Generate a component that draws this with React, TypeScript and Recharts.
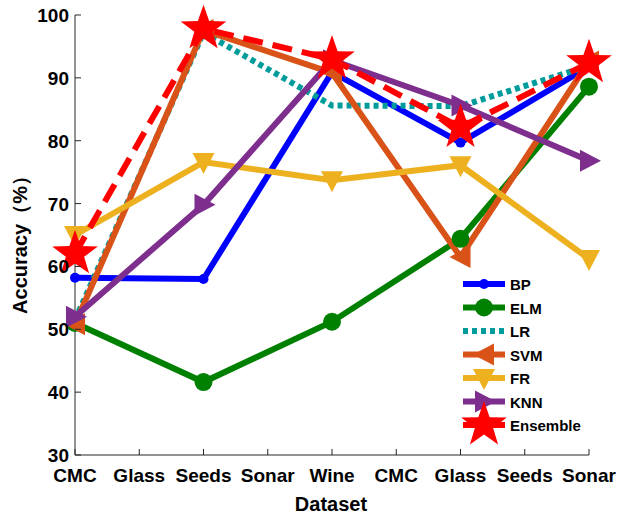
import { LineChart, Line, XAxis, YAxis } from "recharts"

const tickLabels = ["CMC", "Glass", "Seeds", "Sonar", "Wine", "CMC", "Glass", "Seeds", "Sonar"]
const xTicks = [0, 1, 2, 3, 4, 5, 6, 7, 8]
const yTicks = [30, 40, 50, 60, 70, 80, 90, 100]
const datasetPos = [0, 2, 4, 6, 8]

const bp = [58.2, 58.0, 90.9, 79.7, 91.8]
const elm = [51.0, 41.6, 51.2, 64.4, 88.6]
const lr = [51.5, 97.2, 85.6, 85.5, 91.9]
const svm = [50.8, 97.6, 90.8, 61.5, 92.6]
const fr = [65.0, 76.6, 73.7, 76.1, 61.2]
const knn = [52.0, 69.8, 92.8, 85.6, 76.8]
const ensemble = [62.0, 97.8, 93.0, 82.1, 92.4]

const data = datasetPos.map((x, i) => ({
  x,
  BP: bp[i],
  ELM: elm[i],
  LR: lr[i],
  SVM: svm[i],
  FR: fr[i],
  KNN: knn[i],
  Ensemble: ensemble[i],
}))

const FONT = "'Liberation Sans', Arial, sans-serif"
const AXIS = "#262626"

const starPoints = (cx: number, cy: number, r: number) => {
  const pts: string[] = []
  for (let i = 0; i < 10; i++) {
    const rad = i % 2 === 0 ? r : r * 0.4
    const a = -Math.PI / 2 + (i * Math.PI) / 5
    pts.push(`${cx + rad * Math.cos(a)},${cy + rad * Math.sin(a)}`)
  }
  return pts.join(" ")
}

const drawMarker = (marker: string, color: string, cx: number, cy: number, key?: string) => {
  switch (marker) {
    case "dot":
      return <circle key={key} cx={cx} cy={cy} r={5} fill={color} />
    case "circle":
      return <circle key={key} cx={cx} cy={cy} r={9} fill={color} />
    case "left":
      return <polygon key={key} points={`${cx - 11},${cy} ${cx + 10},${cy - 11} ${cx + 10},${cy + 11}`} fill={color} />
    case "down":
      return <polygon key={key} points={`${cx - 11},${cy - 9} ${cx + 11},${cy - 9} ${cx},${cy + 12}`} fill={color} />
    case "right":
      return <polygon key={key} points={`${cx + 12},${cy} ${cx - 9},${cy - 11} ${cx - 9},${cy + 11}`} fill={color} />
    case "star":
      return <polygon key={key} points={starPoints(cx, cy, 24)} fill={color} />
    default:
      return <g key={key} />
  }
}

const series = [
  { key: "BP", color: "#0000FF", dash: undefined, marker: "dot" },
  { key: "ELM", color: "#008000", dash: undefined, marker: "circle" },
  { key: "LR", color: "#009B9B", dash: "5 4", marker: "none" },
  { key: "SVM", color: "#D95319", dash: undefined, marker: "left" },
  { key: "FR", color: "#EDB120", dash: undefined, marker: "down" },
  { key: "KNN", color: "#7E2F8E", dash: undefined, marker: "right" },
  { key: "Ensemble", color: "#FF0000", dash: "20 10", marker: "star" },
]

const BottomTick = (props: any) => {
  const { x, y, payload } = props
  return (
    <g>
      <line x1={x} y1={y} x2={x} y2={y - 6} stroke={AXIS} />
      <text x={x} y={y + 27} textAnchor="middle" fontFamily={FONT} fontWeight="bold" fontSize={19} fill="#000">
        {tickLabels[payload.value]}
      </text>
    </g>
  )
}

const LeftTick = (props: any) => {
  const { x, y, payload } = props
  return (
    <g>
      <line x1={x} y1={y} x2={x + 6} y2={y} stroke={AXIS} />
      <text x={x - 6} y={y + 7} textAnchor="end" fontFamily={FONT} fontWeight="bold" fontSize={19} fill="#000">
        {payload.value}
      </text>
    </g>
  )
}

const TopTick = (props: any) => {
  const { x, y } = props
  return <line x1={x} y1={y} x2={x} y2={y + 6} stroke={AXIS} />
}

const RightTick = (props: any) => {
  const { x, y } = props
  return <line x1={x} y1={y} x2={x - 6} y2={y} stroke={AXIS} />
}

const legendTop = 284
const legendGap = 23.5

export default function App() {
  return (
    <div style={{ position: "absolute", left: 0, top: 0, width: 618, height: 515, overflow: "visible" }}>
      <LineChart width={618} height={515} data={data} margin={{ top: 15, right: 29, bottom: 0, left: 0 }}>
        <XAxis
          dataKey="x"
          type="number"
          domain={[0, 8]}
          ticks={xTicks}
          interval={0}
          height={60}
          tickLine={false}
          tickSize={0}
          tickMargin={0}
          stroke={AXIS}
          tick={<BottomTick />}
        />
        <XAxis
          xAxisId="top"
          dataKey="x"
          type="number"
          orientation="top"
          domain={[0, 8]}
          ticks={xTicks}
          interval={0}
          height={0}
          tickLine={false}
          tickSize={0}
          tickMargin={0}
          stroke={AXIS}
          tick={<TopTick />}
        />
        <YAxis
          type="number"
          domain={[30, 100]}
          ticks={yTicks}
          interval={0}
          width={75}
          tickLine={false}
          tickSize={0}
          tickMargin={0}
          stroke={AXIS}
          tick={<LeftTick />}
        />
        <YAxis
          yAxisId="right"
          type="number"
          orientation="right"
          domain={[30, 100]}
          ticks={yTicks}
          interval={0}
          width={0}
          tickLine={false}
          tickSize={0}
          tickMargin={0}
          stroke={AXIS}
          tick={<RightTick />}
        />
        {series.map((s) => (
          <Line
            key={s.key}
            dataKey={s.key}
            type="linear"
            stroke={s.color}
            strokeWidth={6}
            strokeDasharray={s.dash}
            isAnimationActive={false}
            dot={(p: any) => drawMarker(s.marker, s.color, p.cx, p.cy, `${s.key}-${p.index}`)}
            activeDot={false}
          />
        ))}
      </LineChart>
      <svg width={618} height={515} style={{ position: "absolute", left: 0, top: 0, pointerEvents: "none" }}>
        <text x={331} y={511} textAnchor="middle" fontFamily={FONT} fontWeight="bold" fontSize={20} fill="#000">
          Dataset
        </text>
        <text
          x={0}
          y={0}
          transform="translate(27 240) rotate(-90)"
          textAnchor="middle"
          fontFamily={FONT}
          fontWeight="bold"
          fontSize={20}
          fill="#000"
        >
          Accuracy（%）
        </text>
        {series.map((s, i) => {
          const y = legendTop + i * legendGap
          return (
            <g key={s.key}>
              <line x1={463} y1={y} x2={505} y2={y} stroke={s.color} strokeWidth={6} strokeDasharray={s.dash === "5 4" ? "5 4" : undefined} />
              {drawMarker(s.marker, s.color, 484, y)}
              <text x={510} y={y + 6} fontFamily={FONT} fontWeight="bold" fontSize={15} fill="#000">
                {s.key}
              </text>
            </g>
          )
        })}
      </svg>
    </div>
  )
}
